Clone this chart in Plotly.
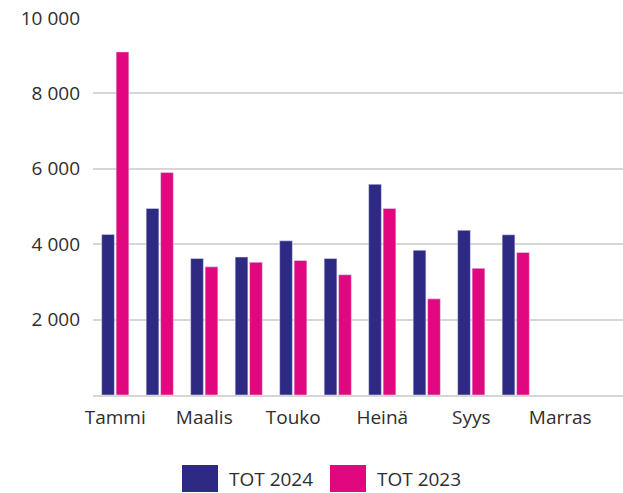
import plotly.graph_objects as go

months = ["Tammi", "Helmi", "Maalis", "Huhti", "Touko", "Kesä",
          "Heinä", "Elo", "Syys", "Loka", "Marras", "Joulu"]
tot_2024 = [4260, 4950, 3620, 3660, 4090, 3620, 5590, 3840, 4370, 4250, None, None]
tot_2023 = [9100, 5900, 3400, 3520, 3570, 3190, 4950, 2550, 3360, 3780, None, None]
y_ticks = [2000, 4000, 6000, 8000, 10000]

NAVY = "#2e2a84"
MAGENTA = "#e0077f"
TEXT = "#2e2e2e"
GRID = "#d6d6d6"
FONT = "Open Sans"

W, H = 623, 493
L, R, T, B = 93, 0, 18, 98

fig = go.Figure()
fig.add_trace(go.Bar(x=months, y=tot_2024, name="TOT 2024", marker_color=NAVY))
fig.add_trace(go.Bar(x=months, y=tot_2023, name="TOT 2023", marker_color=MAGENTA))


def px_x(px):
    return (px - L) / (W - L - R)


def px_y(py):
    return (H - B - py) / (H - T - B)


# hand-made legend with large swatches
legend_items = [("TOT 2024", NAVY, 182), ("TOT 2023", MAGENTA, 330)]
for label, color, x0 in legend_items:
    fig.add_shape(type="rect", xref="paper", yref="paper",
                  x0=px_x(x0), x1=px_x(x0 + 36), y0=px_y(465), y1=px_y(492),
                  fillcolor=color, line=dict(width=0))
    fig.add_annotation(text=label, xref="paper", yref="paper",
                       x=px_x(x0 + 45), y=px_y(479), xanchor="left", yanchor="middle",
                       showarrow=False, font=dict(family=FONT, size=19, color=TEXT))

fig.update_layout(
    width=W, height=H,
    margin=dict(l=L, r=R, t=T, b=B, autoexpand=False),
    plot_bgcolor="white", paper_bgcolor="white",
    barmode="group", bargap=0.35, bargroupgap=0.12,
    showlegend=False,
    separators=", ",
    font=dict(family=FONT, size=19, color=TEXT),
)
fig.update_xaxes(
    type="category",
    range=[-0.5, 11.41],
    tickvals=months[::2],
    showgrid=False,
    showline=True, linecolor=GRID, linewidth=2,
    ticks="", ticklabelstandoff=4,
    automargin=False,
)
fig.update_yaxes(
    range=[0, 10000],
    tickvals=y_ticks,
    tickformat=",d",
    showgrid=True, gridcolor=GRID, gridwidth=2,
    zeroline=False, showline=False,
    ticks="", ticklabelstandoff=12,
    automargin=False,
)

# page has a default 8px body margin; drop it so the figure fills the window
fig.write_html(
    "out.html",
    config={"displayModeBar": False},
    post_script="document.body.style.margin='0';document.body.style.overflow='hidden';",
)
